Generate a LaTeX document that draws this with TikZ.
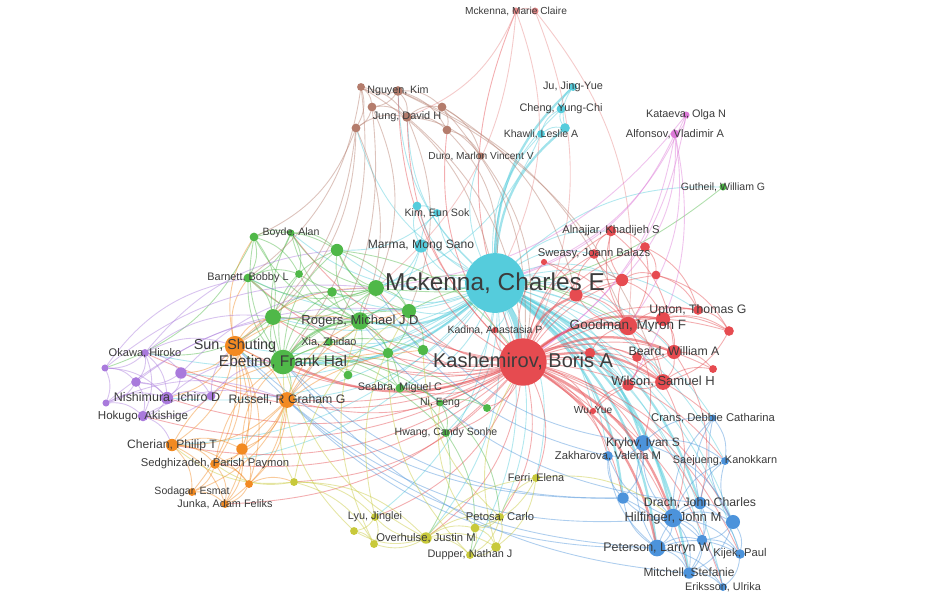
\documentclass[tikz,border=0pt]{standalone}
\usepackage{fontspec}
\setmainfont{Liberation Sans}
\usepackage{tikz}
\usetikzlibrary{backgrounds}
\definecolor{cyanC}{HTML}{55CCDC}
\definecolor{redC}{HTML}{E64B50}
\definecolor{greenC}{HTML}{4FB848}
\definecolor{orangeC}{HTML}{F28A22}
\definecolor{purpleC}{HTML}{A97ADC}
\definecolor{blueC}{HTML}{4C93DB}
\definecolor{yellowC}{HTML}{C8C93A}
\definecolor{brownC}{HTML}{B47C6C}
\definecolor{pinkC}{HTML}{DD7AD8}
\definecolor{paleredC}{HTML}{E88A8A}
\definecolor{labelC}{HTML}{3C3C3C}

\begin{document}
\begin{tikzpicture}[x=0.02cm, y=-0.02cm,
  dot/.style={circle, inner sep=0pt, outer sep=0pt},
  link/.style={line width=0.5pt, draw opacity=0.45},
  heavy/.style={line width=1.3pt, draw opacity=0.55},
  lbl/.style={text=labelC, inner sep=0pt}]
\useasboundingbox (0,0) rectangle (952,599);

% authors, one loop per cluster
\foreach \n/\x/\y/\d in {mckC/495/283/34, marma/421/246/7.5, kimB/417/206/5, kimES/437/213/4.5,
  khawli/541/134/4.5, khawliB/565/128/5.5, cheng/561/109/5, ju/573/87/4.5}
  \node[dot, fill=cyanC, minimum size=\d pt] (\n) at (\x,\y) {};
\foreach \n/\x/\y/\d in {brA/361/87/4.5, nguyen/398/91/5.5, brB/372/107/5, jung/407/117/5.5,
  brC/442/107/5, brD/356/128/5, brE/447/130/5, duro/481/156/4}
  \node[dot, fill=brownC, minimum size=\d pt] (\n) at (\x,\y) {};
\foreach \n/\x/\y/\d in {mckMC/516/11/4, mckMCb/535/11/4}
  \node[dot, fill=paleredC, minimum size=\d pt] (\n) at (\x,\y) {};
\foreach \n/\x/\y/\d in {kataeva/686/115/4, alfonsov/675/134/5}
  \node[dot, fill=pinkC, minimum size=\d pt] (\n) at (\x,\y) {};
\foreach \n/\x/\y/\d in {gutheil/723/187/4, boyde/291/233/4, boydeB/254/237/5, grA/337/250/7,
  barnett/248/278/5, grB/299/274/4.5, grC/332/292/5.5, grD/376/288/9, grE/409/311/8,
  grF/273/317/9, rogers/360/321/10, xia/329/342/4.5, ebetino/283/362/14, grG/388/353/6,
  grH/423/350/6, grI/348/375/5, seabra/400/388/5, ni/440/403/4, grJ/487/408/4.5, hwang/446/433/4.5}
  \node[dot, fill=greenC, minimum size=\d pt] (\n) at (\x,\y) {};
\foreach \n/\x/\y/\d in {sun/235/346/11.5, russell/287/400/9, cherian/172/445/7, orA/242/449/6.5,
  sedgh/215/464/5.5, orB/249/484/4.5, sodagar/192/492/4.5, junka/225/504/4.5}
  \node[dot, fill=orangeC, minimum size=\d pt] (\n) at (\x,\y) {};
\foreach \n/\x/\y/\d in {okawa/145/353/4.5, puA/105/368/4, puB/181/373/6.5, puC/136/382/5.5,
  puD/106/403/4, nishimura/167/398/7, puE/211/396/5, hokugo/143/416/6}
  \node[dot, fill=purpleC, minimum size=\d pt] (\n) at (\x,\y) {};
\foreach \n/\x/\y/\d in {yeA/294/482/4.5, ferri/536/478/4.5, lyu/375/517/4.5, yeB/354/531/4.5,
  yeC/374/544/4.5, overhulse/426/538/6.5, yeD/475/528/5, petosa/500/517/4.5, yeE/496/547/5.5,
  dupper/470/555/4.5}
  \node[dot, fill=yellowC, minimum size=\d pt] (\n) at (\x,\y) {};
\foreach \n/\x/\y/\d in {kash/523/362/27, kadina/495/330/3.5, reA/590/353/6, wuyue/593/411/3.5,
  alnajjar/611/231/6, reB/645/247/5.5, reS/544/262/3.5, sweasy/594/254/5.5, reD/622/280/7,
  reE/656/275/5, reF/576/295/7.5, goodman/628/326/10.5, reG/663/319/8, upton/698/310/5.5,
  reH/729/331/5.5, beard/674/352/8, reI/637/357/5.5, reJ/713/369/4.5, wilson/663/382/9,
  reK/628/385/6.5}
  \node[dot, fill=redC, minimum size=\d pt] (\n) at (\x,\y) {};
\foreach \n/\x/\y/\d in {crans/713/418/4, krylov/643/443/9, zakharova/608/456/5.5,
  saejueng/725/461/4.5, blA/623/498/6.5, drach/700/503/7, hilfinger/673/518/10.5,
  blB/733/522/8, blC/702/540/6, peterson/657/548/9.5, kijek/740/554/5.5,
  mitchell/689/573/6.5, eriksson/723/587/4.5}
  \node[dot, fill=blueC, minimum size=\d pt] (\n) at (\x,\y) {};

% co-authorship links
\begin{scope}[on background layer]
\fill[white] (0,0) rectangle (952,599);
\foreach \a/\b in {mckC/marma, mckC/kimB, mckC/kimES, mckC/khawli, mckC/cheng, mckC/duro,
  mckC/jung, mckC/nguyen, mckC/brD, mckC/grD, mckC/grE, mckC/sun, mckC/russell, mckC/boyde,
  mckC/grA, mckC/barnett, mckC/xia, mckC/okawa, mckC/nishimura, mckC/puB, mckC/cherian,
  mckC/seabra, mckC/hwang, mckC/ni, mckC/overhulse, mckC/petosa, mckC/ferri, mckC/dupper,
  mckC/kadina, mckC/goodman, mckC/reF, mckC/sweasy, mckC/alnajjar, mckC/reD, mckC/beard,
  mckC/wilson, mckC/upton, mckC/gutheil, mckC/crans, mckC/zakharova, mckC/saejueng, mckC/blB,
  mckC/blC, mckC/kijek, mckC/eriksson, mckC/grF, mckC/grC, mckC/reK, mckC/wuyue, mckC/lyu,
  mckC/sedgh, khawli/cheng, cheng/ju, khawliB/ju, khawli/khawliB, marma/kimB, kimB/kimES,
  marma/kimES, khawliB/cheng, marma/rogers, marma/grD, kimES/grA, khawli/grD}
  \draw[link, cyanC] (\a) to[bend left=22] (\b);
\foreach \a/\b in {mckC/hilfinger, mckC/peterson, mckC/mitchell, mckC/krylov, mckC/drach,
  mckC/blA, mckC/ebetino, mckC/rogers, mckC/khawliB, mckC/ju}
  \draw[heavy, cyanC] (\a) to[bend left=22] (\b);
\draw[line width=3pt, cyanC, draw opacity=0.6] (mckC) to[bend left=10] (kash);
\foreach \a/\b in {kash/reA, kash/kadina, kash/wuyue, kash/alnajjar, kash/reB, kash/sweasy,
  kash/reS, kash/reD, kash/reE, kash/upton, kash/reH, kash/reI, kash/reJ, kash/reK, kash/mckMC,
  kash/krylov, kash/zakharova, kash/drach, kash/mitchell, kash/blA, kash/crans, kash/saejueng,
  kash/kijek, kash/rogers, kash/sun, kash/russell, kash/grD, kash/grE, kash/grG, kash/grH,
  kash/grJ, kash/seabra, kash/hwang, kash/cherian, kash/sedgh, kash/nishimura, kash/okawa,
  kash/puB, kash/overhulse, kash/lyu, kash/ferri, kash/petosa, kash/nguyen, kash/jung,
  kash/brE, kash/marma, kash/boyde, kash/barnett, kash/grF, kash/xia, kash/yeA, kash/junka,
  kash/hokugo, kash/blB, kash/eriksson, goodman/reG, goodman/upton, goodman/beard,
  goodman/wilson, goodman/reD, goodman/reF, goodman/alnajjar, goodman/reH, reG/upton,
  reG/beard, reG/reH, upton/reH, beard/wilson, beard/reJ, beard/reI, wilson/reK, wilson/reJ,
  reI/reK, reD/reE, reD/alnajjar, reD/sweasy, alnajjar/reB, reB/reE, reE/upton, reF/sweasy,
  reF/reD, sweasy/alnajjar, reA/goodman, reA/reI, reS/reF, reH/wilson, wuyue/wilson,
  wuyue/reK, reB/goodman, reE/reH, reA/wilson, reF/goodman, reS/goodman, alnajjar/beard,
  reB/upton, reD/reG, reK/beard, reI/wilson, wilson/hilfinger, goodman/krylov, beard/drach}
  \draw[link, redC] (\a) to[bend left=22] (\b);
\foreach \a/\b in {kash/goodman, kash/wilson, kash/beard, kash/reF, kash/reG, kash/hilfinger,
  kash/peterson, kash/ebetino}
  \draw[heavy, redC] (\a) to[bend left=22] (\b);
\foreach \a/\b in {mckMC/mckC, mckMCb/kash, mckMC/mckMCb, mckMCb/goodman, mckMC/jung, mckMC/grD}
  \draw[link, paleredC] (\a) to[bend left=22] (\b);
\foreach \a/\b in {ebetino/grF, ebetino/grA, ebetino/boyde, ebetino/boydeB, ebetino/barnett,
  ebetino/grB, ebetino/grC, ebetino/grD, ebetino/grE, ebetino/xia, ebetino/grG, ebetino/grH,
  ebetino/grI, ebetino/seabra, ebetino/ni, ebetino/sun, ebetino/russell, ebetino/hwang,
  ebetino/grJ, rogers/grF, rogers/grA, rogers/grC, rogers/grD, rogers/grE, rogers/grG,
  rogers/grH, rogers/xia, rogers/boyde, rogers/boydeB, rogers/barnett, rogers/grB,
  rogers/seabra, rogers/grI, grD/grA, grD/grC, grD/grE, grD/grF, grD/boyde, grD/barnett,
  grD/grB, boydeB/boyde, boydeB/barnett, boydeB/grF, boydeB/grA, boydeB/grB, boyde/grA,
  boyde/grB, boyde/barnett, barnett/grF, barnett/grB, grF/grC, grF/grA, grF/xia, grE/grH,
  grE/grG, grE/grA, seabra/ni, seabra/hwang, seabra/grG, ni/hwang, ni/grJ, gutheil/grD,
  grA/grE, grF/sun, grA/kash, grD/goodman, grE/reF, hwang/overhulse, hwang/dupper,
  ni/petosa, grF/okawa, boydeB/puA}
  \draw[link, greenC] (\a) to[bend left=22] (\b);
\draw[heavy, greenC] (ebetino) to[bend left=22] (rogers);
\foreach \a/\b in {sun/russell, sun/cherian, sun/orA, sun/sedgh, sun/orB, sun/sodagar,
  sun/junka, sun/grF, sun/nishimura, sun/puB, russell/cherian, russell/orA, russell/sedgh,
  russell/orB, russell/sodagar, russell/junka, russell/rogers, cherian/orA, cherian/sedgh,
  cherian/sodagar, cherian/junka, cherian/orB, orA/sedgh, orA/orB, orA/junka, sedgh/sodagar,
  sedgh/junka, sedgh/orB, sodagar/junka, orB/junka, sun/grD, russell/grE, orA/grH,
  cherian/ebetino, sun/rogers, russell/grG, orA/ebetino, sedgh/ebetino, sun/boydeB,
  sun/barnett, orB/yeA}
  \draw[link, orangeC] (\a) to[bend left=22] (\b);
\foreach \a/\b in {okawa/puA, okawa/puB, okawa/puC, okawa/nishimura, okawa/hokugo, puA/puC,
  puA/puD, puA/nishimura, puB/puC, puB/nishimura, puB/puE, puC/nishimura, puC/hokugo, puC/puD,
  puD/hokugo, puD/nishimura, nishimura/hokugo, nishimura/puE, puE/hokugo, puE/sun, okawa/sun,
  nishimura/ebetino, okawa/grF, puA/barnett, puC/rogers, hokugo/russell, puA/grD, okawa/grA,
  puD/grE, puB/grD, puE/ebetino, hokugo/cherian, puD/russell}
  \draw[link, purpleC] (\a) to[bend left=22] (\b);
\foreach \a/\b in {hilfinger/peterson, hilfinger/drach, hilfinger/blA, hilfinger/blB,
  hilfinger/blC, hilfinger/kijek, hilfinger/mitchell, hilfinger/eriksson, hilfinger/krylov,
  hilfinger/zakharova, hilfinger/saejueng, hilfinger/crans, peterson/mitchell, peterson/blA,
  peterson/drach, peterson/blC, peterson/kijek, peterson/eriksson, peterson/krylov,
  peterson/zakharova, drach/blB, drach/blC, drach/saejueng, drach/kijek, drach/mitchell,
  drach/crans, krylov/zakharova, krylov/blA, krylov/saejueng, krylov/crans, krylov/blB,
  blB/kijek, blB/saejueng, blB/blC, blB/mitchell, mitchell/eriksson, kijek/eriksson,
  blC/kijek, blC/mitchell, blA/ebetino, peterson/sun, hilfinger/russell, krylov/grE,
  drach/rogers, zakharova/grD, mitchell/ebetino, blA/zakharova, crans/saejueng, blA/mitchell,
  blB/crans, peterson/russell, blA/sun}
  \draw[link, blueC] (\a) to[bend left=22] (\b);
\foreach \a/\b in {overhulse/lyu, overhulse/yeB, overhulse/yeC, overhulse/yeD,
  overhulse/petosa, overhulse/yeE, overhulse/dupper, overhulse/ferri, overhulse/ebetino,
  lyu/yeB, lyu/yeC, yeA/lyu, yeB/yeC, yeA/russell, yeA/cherian, yeA/sedgh, yeA/grE, yeA/yeC,
  petosa/yeD, petosa/yeE, petosa/dupper, petosa/ferri, yeD/dupper, yeE/dupper, yeD/yeE,
  ferri/yeE, ferri/hilfinger, lyu/grE, yeC/rogers, dupper/grG, yeD/ni, yeB/ebetino, ferri/yeD,
  yeE/kash, petosa/grH, yeA/overhulse}
  \draw[link, yellowC] (\a) to[bend left=22] (\b);
\foreach \a/\b in {nguyen/brA, nguyen/brB, nguyen/jung, nguyen/brC, nguyen/brE, brA/brB,
  brA/brD, brA/jung, brB/jung, brB/brD, jung/brC, jung/brE, brC/brE, jung/duro, brC/duro,
  brE/duro, brD/jung, brA/ebetino, brD/grF, brD/rogers, brB/grD, jung/kash, brC/kash,
  brE/mckC, brA/mckC, brD/sun, nguyen/goodman, brB/russell, brD/boydeB, brA/barnett,
  jung/grE, brC/reF, duro/kash, nguyen/wilson}
  \draw[link, brownC] (\a) to[bend left=22] (\b);
\foreach \a/\b in {kataeva/alfonsov, kataeva/mckC, alfonsov/mckC, alfonsov/kash,
  alfonsov/goodman, kataeva/grD, alfonsov/reK, kataeva/kash, alfonsov/reD}
  \draw[link, pinkC] (\a) to[bend left=22] (\b);
\end{scope}

% author names
\foreach \n/\s/\t in {mckC/13.9/{Mckenna, Charles E}, kash/11.4/{Kashemirov, Boris A},
  ebetino/8.8/{Ebetino, Frank Hal}, sun/8.2/{Sun, Shuting}, goodman/7.7/{Goodman, Myron F},
  rogers/7.4/{Rogers, Michael J D}, wilson/7.4/{Wilson, Samuel H},
  hilfinger/7.4/{Hilfinger, John M}, peterson/7.1/{Peterson, Larryn W},
  russell/7/{Russell, R Graham G}, nishimura/7.1/{Nishimura, Ichiro D},
  krylov/6.9/{Krylov, Ivan S}, marma/6.9/{Marma, Mong Sano}, cherian/6.9/{Cherian, Philip T},
  beard/7/{Beard, William A}, upton/7/{Upton, Thomas G}, drach/7/{Drach, John Charles},
  mitchell/6.8/{Mitchell, Stefanie}, hokugo/6.6/{Hokugo, Akishige},
  okawa/6.3/{Okawa, Hiroko}, sedgh/6.4/{Sedghizadeh, Parish Paymon},
  sodagar/6/{Sodagar, Esmat}, junka/6.2/{Junka, Adam Feliks}, kimES/6.1/{Kim, Eun Sok},
  boyde/6/{Boyde, Alan}, barnett/6.2/{Barnett, Bobby L}, xia/6.2/{Xia, Zhidao},
  seabra/6.2/{Seabra, Miguel C}, ni/6/{Ni, Feng}, hwang/6/{Hwang, Candy Sonhe},
  gutheil/6/{Gutheil, William G}, crans/6.4/{Crans, Debbie Catharina},
  zakharova/6.4/{Zakharova, Valeria M}, saejueng/6.2/{Saejueng, Kanokkarn},
  kijek/6.4/{Kijek, Paul}, eriksson/6.2/{Eriksson, Ulrika}, wuyue/5.8/{Wu, Yue},
  kadina/6/{Kadina, Anastasia P}, alnajjar/6.4/{Alnajjar, Khadijeh S},
  sweasy/6.4/{Sweasy, Joann Balazs}, ferri/6.2/{Ferri, Elena}, lyu/6.2/{Lyu, Jinglei},
  overhulse/6.4/{Overhulse, Justin M}, petosa/6.4/{Petosa, Carlo},
  dupper/6.2/{Dupper, Nathan J}, nguyen/6.1/{Nguyen, Kim}, jung/6.2/{Jung, David H},
  duro/5.8/{Duro, Marlon Vincent V}, khawli/6/{Khawli, Leslie A},
  cheng/6.2/{Cheng, Yung-Chi}, ju/6.2/{Ju, Jing-Yue}, mckMC/5.8/{Mckenna, Marie Claire},
  kataeva/6.2/{Kataeva, Olga N}, alfonsov/6.3/{Alfonsov, Vladimir A}}
  \node[lbl, font=\fontsize{\s}{\s}\selectfont] (t\n) at (\n) {\t};
\end{tikzpicture}
\end{document}
